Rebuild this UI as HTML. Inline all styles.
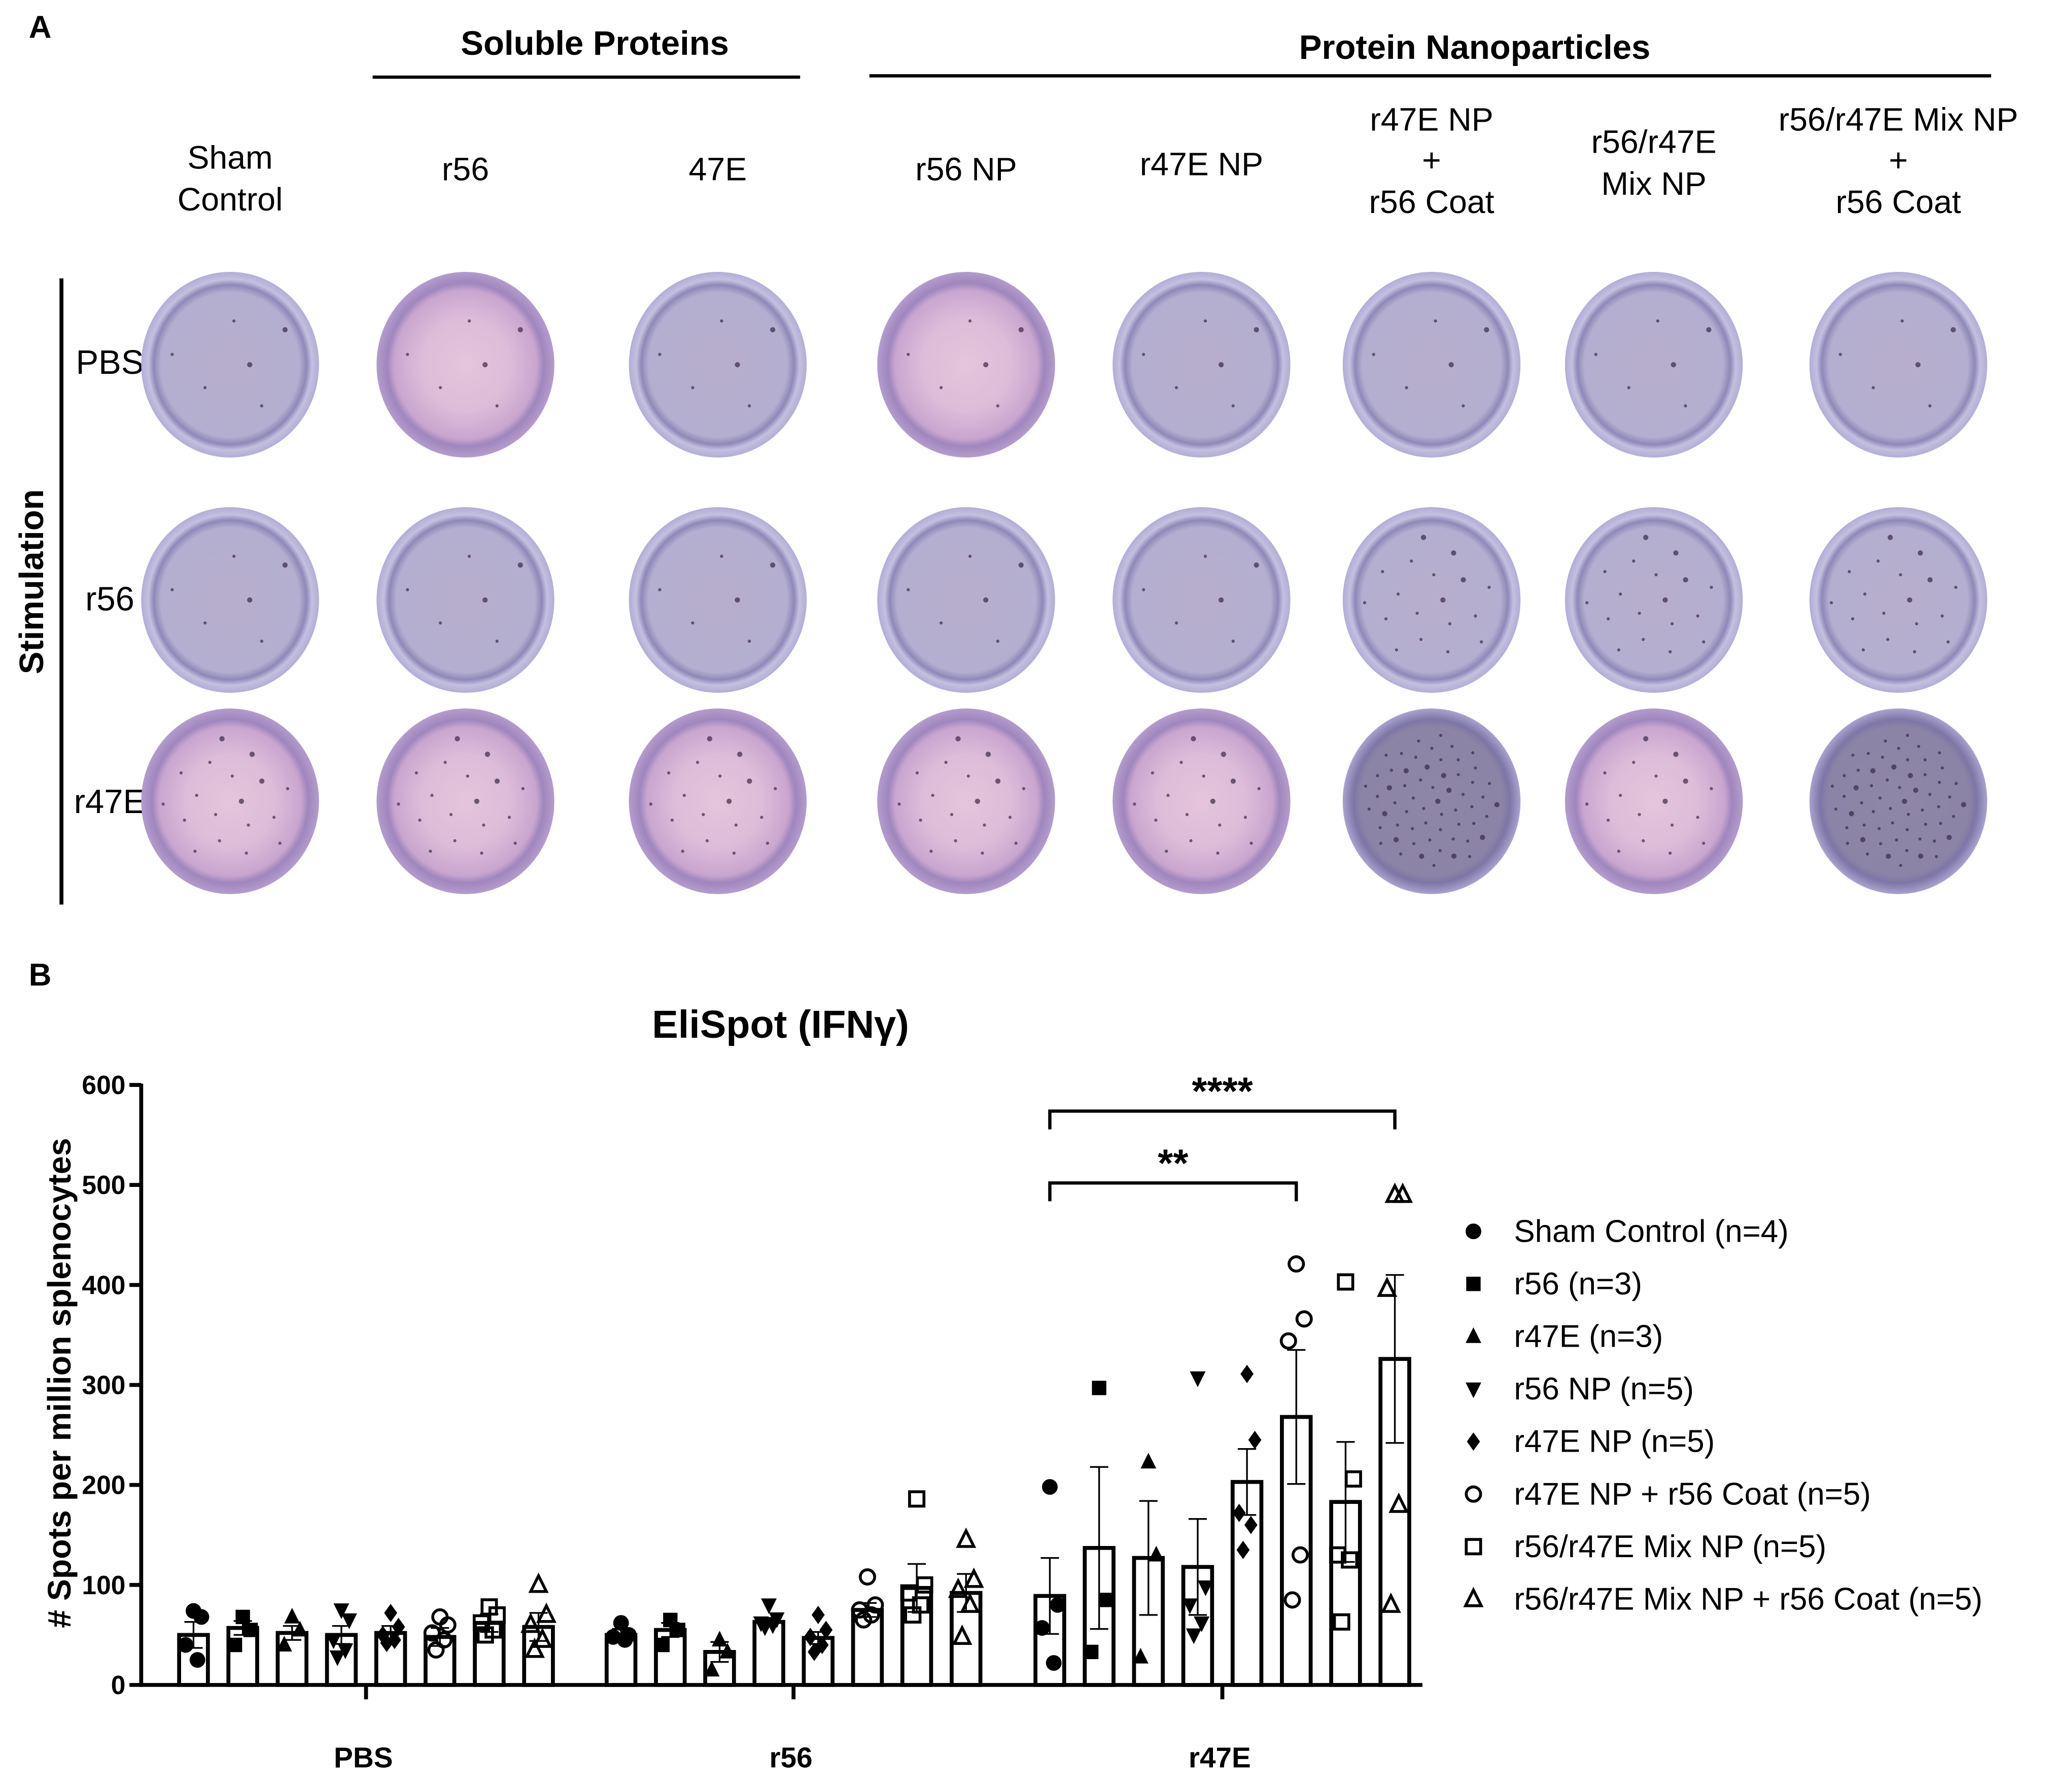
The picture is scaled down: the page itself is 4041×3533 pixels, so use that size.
<!DOCTYPE html>
<html><head><meta charset="utf-8">
<style>
html,body{margin:0;padding:0;background:#fff;}
svg{display:block;}
text{font-family:"Liberation Sans",Arial,sans-serif;}
</style></head>
<body>
<svg id="fig" width="4041" height="3533" viewBox="0 0 1568 1370.9" xmlns="http://www.w3.org/2000/svg">
<defs>
<radialGradient id="gBlue" cx="50%" cy="50%" r="50%">
<stop offset="0" stop-color="#b6aecb"/><stop offset="0.78" stop-color="#b4aed0"/><stop offset="0.86" stop-color="#8f88b8"/><stop offset="0.92" stop-color="#c3c0e0"/><stop offset="1" stop-color="#b2add6"/></radialGradient>
<radialGradient id="gPink" cx="50%" cy="50%" r="50%">
<stop offset="0" stop-color="#e4c5dc"/><stop offset="0.5" stop-color="#dcbcd8"/><stop offset="0.8" stop-color="#c9a6cf"/><stop offset="0.88" stop-color="#9f86bd"/><stop offset="1" stop-color="#b39ccd"/></radialGradient>
<radialGradient id="gDark" cx="50%" cy="50%" r="50%">
<stop offset="0" stop-color="#8e86a6"/><stop offset="0.8" stop-color="#8c84a6"/><stop offset="0.88" stop-color="#7d76a6"/><stop offset="1" stop-color="#a9a3cf"/></radialGradient>
</defs>

<text x="22" y="29" font-size="24" font-weight="bold">A</text>
<text x="455" y="42" font-size="26" font-weight="bold" text-anchor="middle">Soluble Proteins</text>
<line x1="285" y1="59" x2="612" y2="59" stroke="#000" stroke-width="2.5"/>
<text x="1128" y="45" font-size="26" font-weight="bold" text-anchor="middle">Protein Nanoparticles</text>
<line x1="665" y1="58" x2="1523" y2="58" stroke="#000" stroke-width="2.5"/>

<g id="colLabels" font-size="25" text-anchor="middle">
<text x="176" y="129">Sham</text><text x="176" y="161">Control</text>
<text x="356" y="138">r56</text>
<text x="549" y="138">47E</text>
<text x="739" y="138">r56 NP</text>
<text x="919" y="134">r47E NP</text>
<text x="1095" y="100">r47E NP</text><text x="1095" y="131">+</text><text x="1095" y="163">r56 Coat</text>
<text x="1265" y="117">r56/r47E</text><text x="1265" y="149">Mix NP</text>
<text x="1452" y="100">r56/r47E Mix NP</text><text x="1452" y="131">+</text><text x="1452" y="163">r56 Coat</text>
</g>

<line x1="47" y1="213" x2="47" y2="692" stroke="#000" stroke-width="3"/>
<text transform="translate(33,445) rotate(-90)" font-size="26" font-weight="bold" text-anchor="middle">Stimulation</text>
<text x="84" y="286" font-size="26" text-anchor="middle">PBS</text>
<text x="84" y="467" font-size="26" text-anchor="middle">r56</text>
<text x="84" y="622" font-size="26" text-anchor="middle">r47E</text>
<g id="wells"></g>

<text x="22" y="754" font-size="24" font-weight="bold">B</text>
<text x="597" y="794" font-size="30" font-weight="bold" text-anchor="middle">EliSpot (IFNγ)</text>
<text transform="translate(54,1058) rotate(-90)" font-size="25" font-weight="bold" text-anchor="middle"># Spots per million splenocytes</text>
<g id="chart"></g>
<g id="legend"></g>
</svg>
<script>
// ---- chart data ----
const groups = ["PBS","r56","r47E"];
const series = ["Sham Control (n=4)","r56 (n=3)","r47E (n=3)","r56 NP (n=5)","r47E NP (n=5)","r47E NP + r56 Coat (n=5)","r56/r47E Mix NP (n=5)","r56/r47E Mix NP + r56 Coat (n=5)"];
const shapes = ["dot","square","tri","tridown","diamond","ocircle","osquare","otri"];
const meansPBS = [50,57,52,50,52,48,62,58];
const meansR56 = [50,55,33,63,47,75,97,92];
const meansR47E = [89,137,127,118,203,268,183,326];
const semPBS = [13,7,7,9,7,9,9,14];
const semR56 = [6,7,10,4,6,7,24,19];
const semR47E = [38,81,57,48,33,67,60,84];
const ptsPBS = [[74,68,40,25],[68,55,40],[68,55,40],[75,65,45,35,28],[72,58,50,45,42],[68,60,52,45,35],[78,70,62,55,50],[100,70,60,45,35]];
const ptsR56 = [[62,50,48,45],[65,55,40],[45,33,15],[80,66,62,60,58],[70,55,48,40,33],[108,80,75,70,65],[186,100,92,80,70],[145,105,95,80,48]];
const ptsR47E = [[198,80,57,22],[297,85,33],[223,130,28],[307,98,80,62,50],[311,245,172,160,135],[421,366,344,130,85],[403,206,130,125,63],[490,490,396,180,80]];
const yTicks = [0,100,200,300,400,500,600];

const NS="http://www.w3.org/2000/svg";
function mk(tag,attrs,parent){const e=document.createElementNS(NS,tag);for(const k in attrs)e.setAttribute(k,attrs[k]);parent.appendChild(e);return e;}

// wells (image panel)
const wellCols=[176,356,549,739,919,1095,1265,1452];
const wellRows=[279,459,613];
const wellType=[["b","p","b","p","b","b","b","b"],["b","b","b","b","b","b","b","b"],["p","p","p","p","p","d","p","d"]];
const wg=document.getElementById('wells');
wellRows.forEach((cy,r)=>wellCols.forEach((cx,c)=>{
  const t=wellType[r][c];
  const el=mk('ellipse',{cx:cx,cy:cy,rx:68,ry:71,fill:t==="b"?"url(#gBlue)":t==="p"?"url(#gPink)":"url(#gDark)"},wg);
  
  
  const n=t==="d"?60:(r===2||r===1&&c>=5?18:6);
  for(let i=0;i<n;i++){const a=i*2.39996,d=52*Math.sqrt((i+0.5)/n);
    mk('circle',{cx:cx+d*Math.cos(a),cy:cy+d*Math.sin(a),r:i%5===0?2:1.2,fill:"#3a2846",opacity:0.7},wg);}
}));

// chart axes
const y0=1289, pxPer=459/600;
function yS(v){return y0-v*pxPer;}
const groupStart=[148,475,803], step=37.7, bw=22;
function xS(g,s){return groupStart[g]+s*step;}
const ch=document.getElementById('chart');
let ax=mk('line',{x1:108,y1:yS(600)-1,x2:108,y2:y0+1.5,stroke:"#000","stroke-width":3},ch);

ax=mk('line',{x1:106.5,y1:y0,x2:1088,y2:y0,stroke:"#000","stroke-width":3},ch);

yTicks.forEach(v=>{
  mk('line',{x1:99,y1:yS(v),x2:108,y2:yS(v),stroke:"#000","stroke-width":3},ch);
  const t=mk('text',{x:96,y:yS(v)+7,"font-size":20,"font-weight":"bold","text-anchor":"end"},ch);
  t.textContent=v;
  
  
});
const allMeans=[meansPBS,meansR56,meansR47E], allSem=[semPBS,semR56,semR47E], allPts=[ptsPBS,ptsR56,ptsR47E];
function marker(shape,x,y,par){
  const s=6, filled=!shape.startsWith("o"), f=filled?"#000":"none", sw=filled?0:2.2;
  const base={fill:f,stroke:"#000","stroke-width":sw};
  if(shape==="dot"||shape==="ocircle")return mk('circle',Object.assign({cx:x,cy:y,r:filled?6:5.5},base),par);
  if(shape==="square"||shape==="osquare")return mk('rect',Object.assign({x:x-5.5,y:y-5.5,width:11,height:11},base),par);
  if(shape==="tri"||shape==="otri")return mk('polygon',Object.assign({points:`${x},${y-s-1} ${x-s},${y+s-1} ${x+s},${y+s-1}`},base),par);
  if(shape==="tridown")return mk('polygon',Object.assign({points:`${x-s},${y-s+1} ${x+s},${y-s+1} ${x},${y+s+1}`},base),par);
  return mk('polygon',Object.assign({points:`${x},${y-7} ${x+5},${y} ${x},${y+7} ${x-5},${y}`},base),par);
}
const jit=[0,6,-6,3,-3];
groups.forEach((g,gi)=>{
  series.forEach((s,si)=>{
    const x=xS(gi,si), m=allMeans[gi][si], e=allSem[gi][si];
    const b=mk('rect',{x:x-bw/2,y:yS(m),width:bw,height:y0-yS(m),fill:"#fff",stroke:"#000","stroke-width":3},ch);
    
    
    mk('line',{x1:x,y1:yS(m+e),x2:x,y2:yS(Math.max(0,m-e)),stroke:"#000","stroke-width":1.3},ch);
    mk('line',{x1:x-7,y1:yS(m+e),x2:x+7,y2:yS(m+e),stroke:"#000","stroke-width":1.3},ch);
    mk('line',{x1:x-7,y1:yS(Math.max(0,m-e)),x2:x+7,y2:yS(Math.max(0,m-e)),stroke:"#000","stroke-width":1.3},ch);
    allPts[gi][si].forEach((v,pi)=>{
      const p=marker(shapes[si],x+jit[pi%5],yS(v),ch);
      
      
    });
  });
  const cx=(xS(gi,0)+xS(gi,7))/2;
  mk('line',{x1:cx,y1:y0,x2:cx,y2:y0+11,stroke:"#000","stroke-width":3},ch);
  const t=mk('text',{x:cx-2,y:1352,"font-size":22,"font-weight":"bold","text-anchor":"middle"},ch);
  t.textContent=g;
  
  
});
// significance brackets
function bracket(x1,x2,y,label,name){
  const gr=mk('g',{},ch);
  
  
  mk('polyline',{points:`${x1},${y+14} ${x1},${y} ${x2},${y} ${x2},${y+14}`,fill:"none",stroke:"#000","stroke-width":2.5},gr);
  const t=mk('text',{x:(x1+x2)/2,y:y-5,"font-size":30,"font-weight":"bold","text-anchor":"middle"},gr);
  t.textContent=label;
}
bracket(xS(2,0),xS(2,5),905,"**","bracket-double-star");
bracket(xS(2,0),xS(2,7),850,"****","bracket-quad-star");
// legend
const lg=document.getElementById('legend');
series.forEach((s,i)=>{
  const y=942+i*40.2;
  const m=marker(shapes[i],1127,y,lg);
  
  
  const t=mk('text',{x:1158,y:y+8,"font-size":24},lg);
  t.textContent=s;
  
  
});
</script>
</body></html>
